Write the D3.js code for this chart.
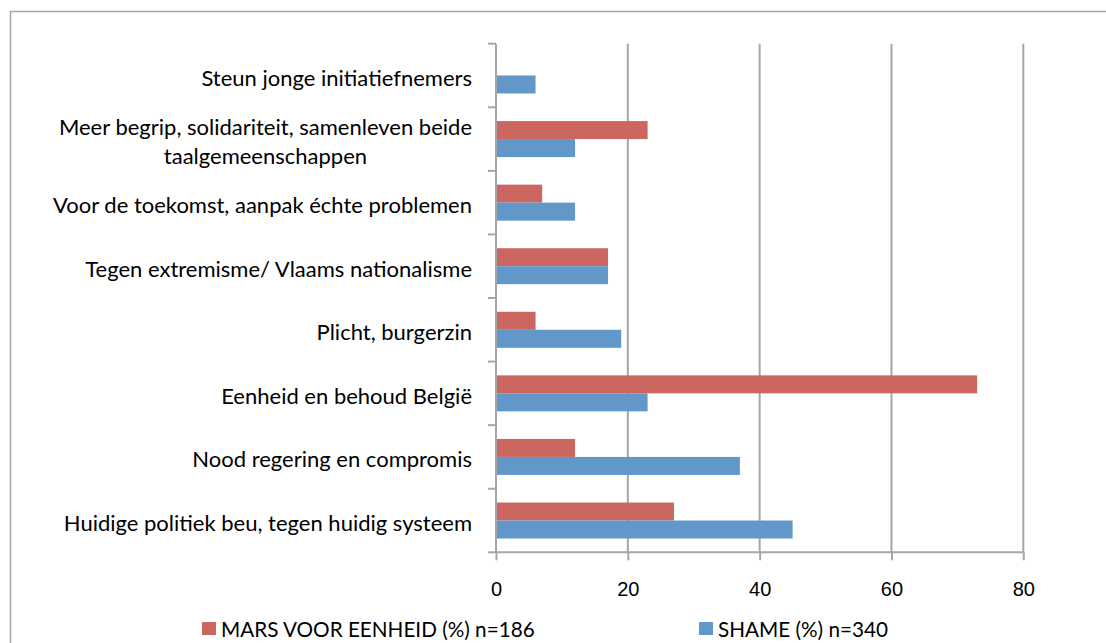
<!DOCTYPE html>
<html>
<head>
<meta charset="utf-8">
<script src="https://cdn.jsdelivr.net/npm/d3@7"></script>
<style>
  body { margin: 0; background: #fff; }
  svg { display: block; font-family: Lato, "Open Sans", sans-serif; }
</style>
</head>
<body>
<svg width="1106" height="643"></svg>
<script>
// categorieen van boven naar onder
var categories = [
  "Steun jonge initiatiefnemers",
  "Meer begrip, solidariteit, samenleven beide\ntaalgemeenschappen",
  "Voor de toekomst, aanpak échte problemen",
  "Tegen extremisme/ Vlaams nationalisme",
  "Plicht, burgerzin",
  "Eenheid en behoud België",
  "Nood regering en compromis",
  "Huidige politiek beu, tegen huidig systeem"
];
var seriesNames = ["MARS VOOR EENHEID (%) n=186", "SHAME (%) n=340"];
var marsValues = [null, 23, 7, 17, 6, 73, 12, 27];
var shameValues = [6, 12, 12, 17, 19, 23, 37, 45];
var xTicks = [0, 20, 40, 60, 80];
var colors = ["#cc6661", "#6297ca"];

var svg = d3.select("svg"),
    margin = { top: 43.7, right: 82.7, bottom: 90.7, left: 496 },
    width = +svg.attr("width") - margin.left - margin.right,
    height = +svg.attr("height") - margin.top - margin.bottom;

// kader rond de grafiek
svg.append("rect")
    .attr("x", 10.5).attr("y", 11.5)
    .attr("width", 1110).attr("height", 650)
    .attr("fill", "none")
    .attr("stroke", "#a6a6a6")
    .attr("stroke-width", 1.5);

var x = d3.scaleLinear().domain([0, 80]).range([0, width]);
var y = d3.scaleBand().domain(categories).range([0, height]);
var ySub = d3.scaleBand().domain([0, 1]).range([0, y.bandwidth()]).paddingOuter(0.766);

var g = svg.append("g")
    .attr("transform", "translate(" + margin.left + "," + margin.top + ")");

// verticale rasterlijnen
g.selectAll(".grid")
    .data(xTicks.slice(1))
    .enter().append("line")
    .attr("x1", function (d) { return x(d); })
    .attr("x2", function (d) { return x(d); })
    .attr("y1", 0).attr("y2", height)
    .attr("stroke", "#a6a6a6")
    .attr("stroke-width", 2);

// balken
var rows = categories.map(function (c, i) {
    return [
        { cat: c, s: 0, v: marsValues[i] },
        { cat: c, s: 1, v: shameValues[i] }
    ];
});
var bars = d3.merge(rows).filter(function (d) { return d.v != null; });

g.selectAll(".bar")
    .data(bars)
    .enter().append("rect")
    .attr("class", "bar")
    .attr("x", x(0))
    .attr("y", function (d) { return y(d.cat) + ySub(d.s); })
    .attr("width", function (d) { return x(d.v) - x(0); })
    .attr("height", ySub.bandwidth())
    .attr("fill", function (d) { return colors[d.s]; });

// X as
var xAxis = g.append("g")
    .attr("transform", "translate(0," + height + ")")
    .call(d3.axisBottom(x).tickValues(xTicks).tickSize(8).tickPadding(22));
xAxis.select(".domain").attr("stroke", "#a6a6a6").attr("stroke-width", 2).attr("d", "M0,0H" + width);
xAxis.selectAll(".tick line").attr("stroke", "#a6a6a6").attr("stroke-width", 2);
xAxis.selectAll("text")
    .attr("fill", "#000")
    .style("font-size", "20px");

// Y as
var yTickPos = d3.range(categories.length + 1).map(function (i) { return i * y.step(); });
var yAxis = g.append("g");
yAxis.append("line")
    .attr("x1", 0).attr("x2", 0).attr("y1", 0).attr("y2", height)
    .attr("stroke", "#a6a6a6").attr("stroke-width", 2);
yAxis.selectAll(".ytick")
    .data(yTickPos)
    .enter().append("line")
    .attr("x1", -8).attr("x2", 0)
    .attr("y1", function (d) { return d; })
    .attr("y2", function (d) { return d; })
    .attr("stroke", "#a6a6a6").attr("stroke-width", 2);

// categorielabels, meerdere regels gecentreerd onder elkaar
var labels = yAxis.selectAll(".lab")
    .data(categories)
    .enter().append("text")
    .attr("text-anchor", "middle")
    .attr("fill", "#000")
    .style("font-size", "22px");
labels.each(function (d) {
    var lines = d.split("\n");
    var t = d3.select(this);
    var cy = y(d) + y.bandwidth() / 2;
    var lh = 28.3;
    lines.forEach(function (ln, k) {
        t.append("tspan")
            .attr("x", 0)
            .attr("y", cy + 10.4 + (k - (lines.length - 1) / 2) * lh)
            .text(ln);
    });
});
labels.each(function () {
    var t = d3.select(this);
    var w = this.getBBox().width;
    t.selectAll("tspan").attr("x", -24 - w / 2);
});

// legende
var legend = svg.append("g");
var legendX = [202, 699];
seriesNames.forEach(function (name, i) {
    legend.append("rect")
        .attr("x", legendX[i]).attr("y", 622)
        .attr("width", 14).attr("height", 13)
        .attr("fill", colors[i]);
    legend.append("text")
        .attr("x", legendX[i] + 19).attr("y", 636.5)
        .attr("fill", "#000")
        .style("font-size", "20.7px")
        .text(name);
});
</script>
</body>
</html>
